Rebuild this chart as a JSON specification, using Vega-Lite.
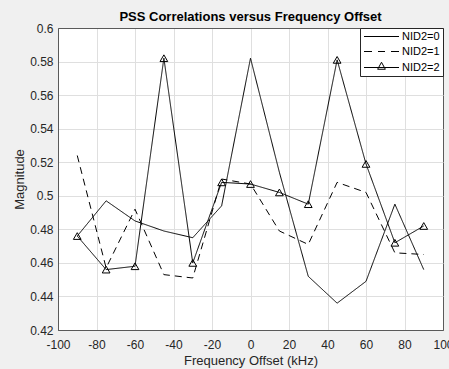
{
  "$schema": "https://vega.github.io/schema/vega-lite/v6.json",
  "autosize": "none",
  "width": 385,
  "height": 302,
  "padding": {"left": 58, "top": 28, "right": 6, "bottom": 39},
  "background": "#f0f0f0",
  "title": {
    "text": "PSS Correlations versus Frequency Offset",
    "font": "Liberation Sans",
    "fontSize": 13,
    "fontWeight": "bold",
    "color": "#000000",
    "anchor": "middle",
    "frame": "group",
    "baseline": "alphabetic",
    "offset": 6,
    "dy": 18
  },
  "config": {
    "view": {"fill": "#ffffff", "stroke": null},
    "font": "Liberation Sans",
    "axis": {
      "labelFont": "Liberation Sans",
      "titleFont": "Liberation Sans",
      "labelFontSize": 12,
      "titleFontSize": 13,
      "titleFontWeight": "normal",
      "labelColor": "#262626",
      "titleColor": "#262626",
      "domainColor": "#5a5a5a",
      "domainWidth": 1,
      "ticks": false,
      "tickSize": 0,
      "gridWidth": 1,
      "labelFlush": false,
      "labelOverlap": false
    }
  },
  "data": {
    "values": [
      {"f": -90, "m": 0.476, "s": "NID2=0"},
      {"f": -75, "m": 0.497, "s": "NID2=0"},
      {"f": -60, "m": 0.485, "s": "NID2=0"},
      {"f": -45, "m": 0.479, "s": "NID2=0"},
      {"f": -30, "m": 0.475, "s": "NID2=0"},
      {"f": -15, "m": 0.494, "s": "NID2=0"},
      {"f": 0, "m": 0.582, "s": "NID2=0"},
      {"f": 15, "m": 0.514, "s": "NID2=0"},
      {"f": 30, "m": 0.452, "s": "NID2=0"},
      {"f": 45, "m": 0.436, "s": "NID2=0"},
      {"f": 60, "m": 0.449, "s": "NID2=0"},
      {"f": 75, "m": 0.495, "s": "NID2=0"},
      {"f": 90, "m": 0.456, "s": "NID2=0"},
      {"f": -90, "m": 0.524, "s": "NID2=1"},
      {"f": -75, "m": 0.457, "s": "NID2=1"},
      {"f": -60, "m": 0.492, "s": "NID2=1"},
      {"f": -45, "m": 0.453, "s": "NID2=1"},
      {"f": -30, "m": 0.451, "s": "NID2=1"},
      {"f": -15, "m": 0.510, "s": "NID2=1"},
      {"f": 0, "m": 0.507, "s": "NID2=1"},
      {"f": 15, "m": 0.479, "s": "NID2=1"},
      {"f": 30, "m": 0.471, "s": "NID2=1"},
      {"f": 45, "m": 0.508, "s": "NID2=1"},
      {"f": 60, "m": 0.502, "s": "NID2=1"},
      {"f": 75, "m": 0.466, "s": "NID2=1"},
      {"f": 90, "m": 0.465, "s": "NID2=1"},
      {"f": -90, "m": 0.476, "s": "NID2=2"},
      {"f": -75, "m": 0.456, "s": "NID2=2"},
      {"f": -60, "m": 0.458, "s": "NID2=2"},
      {"f": -45, "m": 0.582, "s": "NID2=2"},
      {"f": -30, "m": 0.460, "s": "NID2=2"},
      {"f": -15, "m": 0.508, "s": "NID2=2"},
      {"f": 0, "m": 0.507, "s": "NID2=2"},
      {"f": 15, "m": 0.502, "s": "NID2=2"},
      {"f": 30, "m": 0.495, "s": "NID2=2"},
      {"f": 45, "m": 0.581, "s": "NID2=2"},
      {"f": 60, "m": 0.519, "s": "NID2=2"},
      {"f": 75, "m": 0.472, "s": "NID2=2"},
      {"f": 90, "m": 0.482, "s": "NID2=2"}
    ]
  },
  "encoding": {
    "x": {
      "field": "f",
      "type": "quantitative",
      "scale": {"domain": [-100, 100], "nice": false, "zero": false},
      "axis": {
        "title": "Frequency Offset (kHz)",
        "values": [-100, -80, -60, -40, -20, 0, 20, 40, 60, 80, 100],
        "labelExpr": "datum.value < 0 ? '-' + abs(datum.value) : '' + datum.value",
        "labelPadding": 9,
        "titlePadding": 4,
        "grid": true,
        "gridColor": {"condition": {"test": "abs(datum.value) >= 100", "value": "#5a5a5a"}, "value": "#dfdfdf"}
      }
    },
    "y": {
      "field": "m",
      "type": "quantitative",
      "scale": {"domain": [0.42, 0.6], "nice": false, "zero": false},
      "axis": {
        "title": "Magnitude",
        "values": [0.42, 0.44, 0.46, 0.48, 0.5, 0.52, 0.54, 0.56, 0.58, 0.6],
        "format": ".2~f",
        "labelPadding": 5,
        "titlePadding": 3,
        "grid": true,
        "gridColor": {"condition": {"test": "datum.value >= 0.599 || datum.value <= 0.421", "value": "#5a5a5a"}, "value": "#dfdfdf"}
      }
    }
  },
  "layer": [
    {
      "mark": {"type": "line", "color": "#000000", "strokeWidth": 1},
      "encoding": {
        "detail": {"field": "s", "type": "nominal"},
        "strokeDash": {
          "field": "s",
          "type": "nominal",
          "scale": {"domain": ["NID2=1", "NID2=0", "NID2=2"], "range": [[7, 5], [1, 0], [1, 0]]},
          "legend": null
        }
      }
    },
    {
      "transform": [{"filter": "datum.s === 'NID2=2'"}],
      "mark": {"type": "point", "shape": "triangle-up", "filled": false, "color": "#000000", "strokeWidth": 1, "size": 60, "opacity": 1}
    },
    {
      "transform": [{"filter": "false"}],
      "mark": {"type": "point", "filled": false, "color": "#000000", "strokeWidth": 1},
      "encoding": {
        "shape": {
          "field": "s",
          "type": "nominal",
          "scale": {
            "domain": ["NID2=0", "NID2=1", "NID2=2"],
            "range": [
              "M-3.5,0H3.5",
              "M-3.5,0H-1.9M-0.7,0H0.7M1.9,0H3.5",
              "M-3.5,0H3.5M-0.77,0.35L0,-1.05L0.77,0.35Z"
            ]
          },
          "legend": {
            "title": null,
            "orient": "top-right",
            "offset": 0,
            "padding": 3,
            "fillColor": "#ffffff",
            "strokeColor": "#262626",
            "symbolSize": 100,
            "symbolStrokeColor": "#000000",
            "symbolFillColor": "transparent",
            "symbolStrokeWidth": 1,
            "symbolOpacity": 1,
            "symbolOffset": 13,
            "rowPadding": 3,
            "labelOffset": 15,
            "labelFont": "Liberation Sans",
            "labelFontSize": 11,
            "labelColor": "#000000"
          }
        }
      }
    }
  ]
}
